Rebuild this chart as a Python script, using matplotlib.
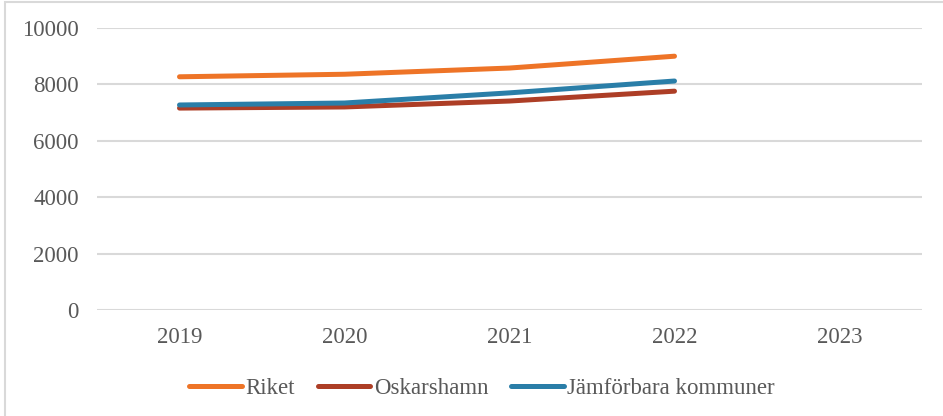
import matplotlib.pyplot as plt
from matplotlib.patches import Rectangle

plt.rcParams['font.family'] = ['Liberation Serif', 'DejaVu Serif']

years = ['2019', '2020', '2021', '2022', '2023']
riket = [8270, 8360, 8580, 9000]
oskarshamn = [7160, 7200, 7410, 7760]
jamforbara = [7270, 7340, 7700, 8120]

fig = plt.figure(figsize=(9.43, 4.16), dpi=100)
ax = fig.add_axes([97 / 943, 1 - 310 / 416, 825 / 943, 282 / 416])

x = range(len(years))
lw = 3.6
ax.plot(x[:4], riket, color='#EE7427', lw=lw, solid_capstyle='round', label='Riket', zorder=3)
ax.plot(x[:4], oskarshamn, color='#AD3E26', lw=lw, solid_capstyle='round', label='Oskarshamn', zorder=3)
ax.plot(x[:4], jamforbara, color='#2A7EA8', lw=lw, solid_capstyle='round', label='Jämförbara kommuner', zorder=4)

ax.set_xlim(-0.5, 4.5)
ax.set_ylim(0, 10000)
ax.set_yticks(range(0, 10001, 2000))
ax.set_xticks(list(x))
ax.set_xticklabels(years)
ax.grid(axis='y', color='#D9D9D9', lw=1.5)
ax.set_axisbelow(True)
for s in ax.spines.values():
    s.set_visible(False)
ax.tick_params(length=0, labelsize=16.5, labelcolor='#595959')
ax.tick_params(axis='y', pad=13)
ax.tick_params(axis='x', pad=12)

leg = fig.legend(loc='center', bbox_to_anchor=(482 / 943, 1 - 388 / 416), ncol=3, frameon=False,
                 fontsize=16.5, handlelength=2.3, handletextpad=0.15, columnspacing=1.0)
for t in leg.get_texts():
    t.set_color('#595959')

fig.patches.append(Rectangle((5 / 943, -0.1), 1.1, 1 - 2 / 416 + 0.1, transform=fig.transFigure,
                             fill=False, edgecolor='#D9D9D9', lw=1.5))

fig.savefig('out.png', dpi=100)
